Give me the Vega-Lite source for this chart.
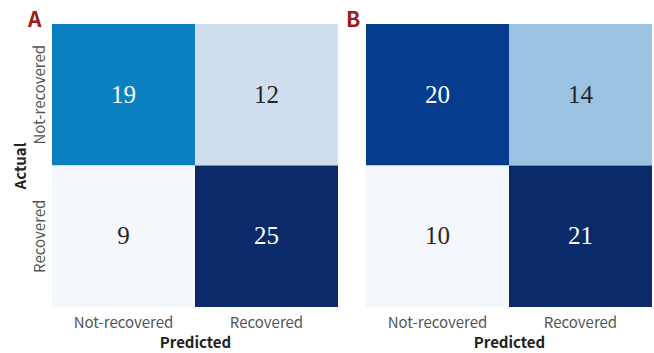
{
  "$schema": "https://vega.github.io/schema/vega-lite/v6.json",
  "padding": {"left": 12, "top": 10, "right": 0, "bottom": 0},
  "background": "white",
  "datasets": {
    "a": [
      {"actual": "Not-recovered", "predicted": "Not-recovered", "value": 19},
      {"actual": "Not-recovered", "predicted": "Recovered", "value": 12},
      {"actual": "Recovered", "predicted": "Not-recovered", "value": 9},
      {"actual": "Recovered", "predicted": "Recovered", "value": 25}
    ],
    "b": [
      {"actual": "Not-recovered", "predicted": "Not-recovered", "value": 20},
      {"actual": "Not-recovered", "predicted": "Recovered", "value": 14},
      {"actual": "Recovered", "predicted": "Not-recovered", "value": 10},
      {"actual": "Recovered", "predicted": "Recovered", "value": 21}
    ]
  },
  "config": {
    "view": {"stroke": null},
    "concat": {"spacing": 8},
    "scale": {"bandPaddingInner": 0, "bandPaddingOuter": 0},
    "axis": {
      "ticks": false,
      "domain": false,
      "grid": false,
      "labelFont": "Noto Sans CJK JP",
      "labelFontSize": 15,
      "labelColor": "#555555",
      "titleFont": "Noto Sans CJK JP",
      "titleFontSize": 15,
      "titleFontWeight": "bold",
      "titleColor": "#222222"
    },
    "title": {
      "font": "Noto Sans CJK JP",
      "fontSize": 21,
      "fontWeight": "bold",
      "color": "#9b1c1c",
      "anchor": "start",
      "frame": "group",
      "offset": -7
    }
  },
  "resolve": {"scale": {"color": "independent", "x": "independent", "y": "independent"}},
  "hconcat": [
    {
      "title": {"text": "A", "dx": -24},
      "width": 286,
      "height": 283,
      "data": {"name": "a"},
      "encoding": {
        "x": {"field": "predicted", "type": "nominal", "axis": {"title": "Predicted", "labelAngle": 0, "labelPadding": 8, "titlePadding": 5}},
        "y": {"field": "actual", "type": "nominal", "axis": {"title": "Actual", "labelAngle": -90, "labelPadding": 5, "titlePadding": 4}}
      },
      "layer": [
        {
          "mark": {"type": "rect"},
          "encoding": {
            "color": {"field": "value", "type": "nominal", "legend": null,
              "scale": {"domain": [19, 12, 9, 25], "range": ["#0a80c0", "#d0dff0", "#f4f8fd", "#0b2a6a"]}}
          }
        },
        {
          "mark": {"type": "text", "font": "Liberation Serif", "fontSize": 25},
          "encoding": {
            "text": {"field": "value", "type": "quantitative"},
            "color": {"condition": {"test": "datum.value >= 19", "value": "white"}, "value": "#262626"}
          }
        }
      ]
    },
    {
      "title": {"text": "B", "dx": -20},
      "width": 286,
      "height": 283,
      "data": {"name": "b"},
      "encoding": {
        "x": {"field": "predicted", "type": "nominal", "axis": {"title": "Predicted", "labelAngle": 0, "labelPadding": 8, "titlePadding": 5}},
        "y": {"field": "actual", "type": "nominal", "axis": null}
      },
      "layer": [
        {
          "mark": {"type": "rect"},
          "encoding": {
            "color": {"field": "value", "type": "nominal", "legend": null,
              "scale": {"domain": [20, 14, 10, 21], "range": ["#053c8e", "#9cc3e2", "#f4f8fd", "#0b2a6a"]}}
          }
        },
        {
          "mark": {"type": "text", "font": "Liberation Serif", "fontSize": 25},
          "encoding": {
            "text": {"field": "value", "type": "quantitative"},
            "color": {"condition": {"test": "datum.value >= 20", "value": "white"}, "value": "#262626"}
          }
        }
      ]
    }
  ]
}
